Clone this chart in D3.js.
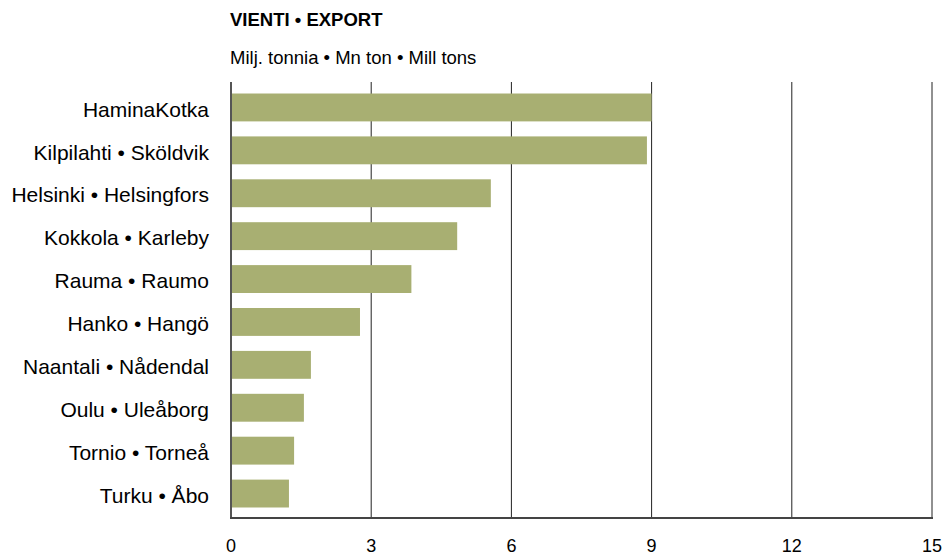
<!DOCTYPE html>
<html><head><meta charset="utf-8">
<script src="https://cdn.jsdelivr.net/npm/d3@7"></script>
<style>body{margin:0;background:#fff;font-family:"Liberation Sans",Arial,sans-serif;}</style>
</head><body><svg id="c" width="944" height="555"></svg>
<script>
const categories = ["HaminaKotka","Kilpilahti • Sköldvik","Helsinki • Helsingfors","Kokkola • Karleby","Rauma • Raumo","Hanko • Hangö","Naantali • Nådendal","Oulu • Uleåborg","Tornio • Torneå","Turku • Åbo"];
const values = [9.0, 8.9, 5.56, 4.84, 3.86, 2.76, 1.71, 1.56, 1.35, 1.24];
const ticks = [0, 3, 6, 9, 12, 15];
const title = "VIENTI • EXPORT";
const subtitle = "Milj. tonnia • Mn ton • Mill tons";

const svg = d3.select("#c");
const x = d3.scaleLinear().domain([0, 15]).range([231, 932]);
const y = d3.scaleBand().domain(categories).range([86, 515]).paddingInner(0.35).paddingOuter(0.175);

svg.append("text").attr("x", 230).attr("y", 25.5).attr("font-size", 18.5).attr("font-weight", "bold").attr("fill", "#000").text(title);
svg.append("text").attr("x", 230).attr("y", 63.5).attr("font-size", 18.5).attr("fill", "#000").text(subtitle);

// gridlines
svg.append("g").selectAll("line").data(ticks.slice(1)).join("line")
  .attr("x1", d => x(d)).attr("x2", d => x(d)).attr("y1", 82).attr("y2", 518)
  .attr("stroke", "#222").attr("stroke-width", 1);

// bars
svg.append("g").selectAll("rect").data(values).join("rect")
  .attr("x", x(0)).attr("y", (d, i) => y(categories[i]))
  .attr("width", d => x(d) - x(0)).attr("height", y.bandwidth())
  .attr("fill", "#a8af72");

// left axis line
svg.append("line").attr("x1", x(0)).attr("x2", x(0)).attr("y1", 82).attr("y2", 519)
  .attr("stroke", "#555").attr("stroke-width", 2);
// bottom axis line
svg.append("line").attr("x1", x(0) - 1).attr("x2", x(15) + 1).attr("y1", 518).attr("y2", 518)
  .attr("stroke", "#444").attr("stroke-width", 2);

// category labels
svg.append("g").selectAll("text").data(categories).join("text")
  .attr("x", 209).attr("y", d => y(d) + y.bandwidth() / 2).attr("dy", "0.44em")
  .attr("text-anchor", "end").attr("font-size", 21).attr("fill", "#000").text(d => d);

// tick labels
svg.append("g").selectAll("text").data(ticks).join("text")
  .attr("x", d => x(d)).attr("y", 552).attr("text-anchor", "middle")
  .attr("font-size", 18).attr("fill", "#000").text(d => d);
</script></body></html>
